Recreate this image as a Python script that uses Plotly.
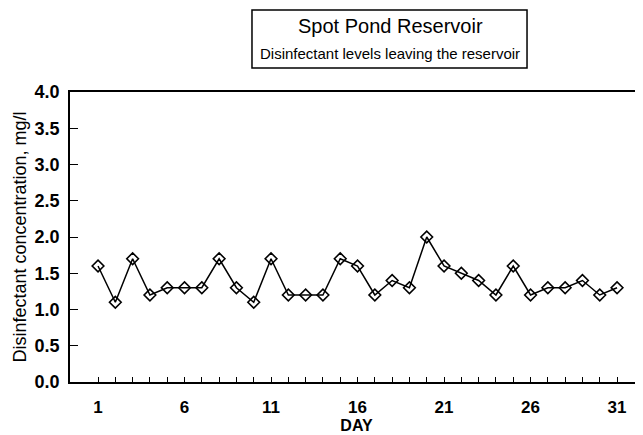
import plotly.graph_objects as go

days = list(range(1, 32))
chlorine = [1.6, 1.1, 1.7, 1.2, 1.3, 1.3, 1.3, 1.7, 1.3, 1.1,
            1.7, 1.2, 1.2, 1.2, 1.7, 1.6, 1.2, 1.4, 1.3, 2.0,
            1.6, 1.5, 1.4, 1.2, 1.6, 1.2, 1.3, 1.3, 1.4, 1.2, 1.3]
labeled_days = [1, 6, 11, 16, 21, 26, 31]
y_ticks = [0.0, 0.5, 1.0, 1.5, 2.0, 2.5, 3.0, 3.5, 4.0]

FONT = "Liberation Sans, Arial, Helvetica, sans-serif"

fig = go.Figure()
fig.add_trace(go.Scatter(
    x=days,
    y=chlorine,
    mode="lines+markers",
    line=dict(color="black", width=1.5),
    marker=dict(symbol="diamond-open", size=9, color="black", line=dict(width=1.6)),
    showlegend=False,
))

fig.update_xaxes(
    range=[-0.62, 32.5],
    tickvals=days,
    ticktext=[str(d) if d in labeled_days else "" for d in days],
    ticks="inside",
    ticklen=5,
    tickwidth=1.2,
    tickcolor="black",
    ticklabelstandoff=9,
    showline=True,
    linecolor="black",
    linewidth=1.8,
    mirror=True,
    showgrid=False,
    zeroline=False,
    tickfont=dict(family=FONT, size=17, color="black", weight="bold"),
    title=dict(text="<b>DAY</b>", font=dict(family=FONT, size=16, color="black"), standoff=0),
)
fig.update_yaxes(
    range=[0, 4.0],
    tickvals=y_ticks,
    ticktext=[f"{v:.1f}" for v in y_ticks],
    ticks="inside",
    ticklen=8,
    tickwidth=1.2,
    tickcolor="black",
    ticklabelstandoff=5,
    showline=True,
    linecolor="black",
    linewidth=1.8,
    showgrid=False,
    zeroline=False,
    automargin=False,
    tickfont=dict(family=FONT, size=18, color="black", weight="bold"),
)

# y axis title placed by hand so it sits near the left edge
fig.add_annotation(text="Disinfectant concentration, mg/l", xref="paper", yref="paper",
                   x=-0.088, y=0.5, textangle=-90, showarrow=False,
                   xanchor="center", yanchor="middle",
                   font=dict(family=FONT, size=18, color="black"))

# title box
fig.add_shape(type="rect", xref="paper", yref="paper",
              x0=0.3176, x1=0.7976, y0=1.083, y1=1.283,
              line=dict(color="black", width=1.5), fillcolor="white")
fig.add_annotation(text="Spot Pond Reservoir", xref="paper", yref="paper",
                   x=0.5585, y=1.226, showarrow=False, yanchor="middle",
                   font=dict(family=FONT, size=20, color="black"))
fig.add_annotation(text="Disinfectant levels leaving the reservoir", xref="paper", yref="paper",
                   x=0.5585, y=1.134, showarrow=False, yanchor="middle",
                   font=dict(family=FONT, size=15, color="black"))

fig.update_layout(
    width=635,
    height=427,
    margin=dict(l=62, r=0, t=84, b=53),
    paper_bgcolor="white",
    plot_bgcolor="white",
    font=dict(family=FONT, color="black"),
)

fig.write_html("out.html")
